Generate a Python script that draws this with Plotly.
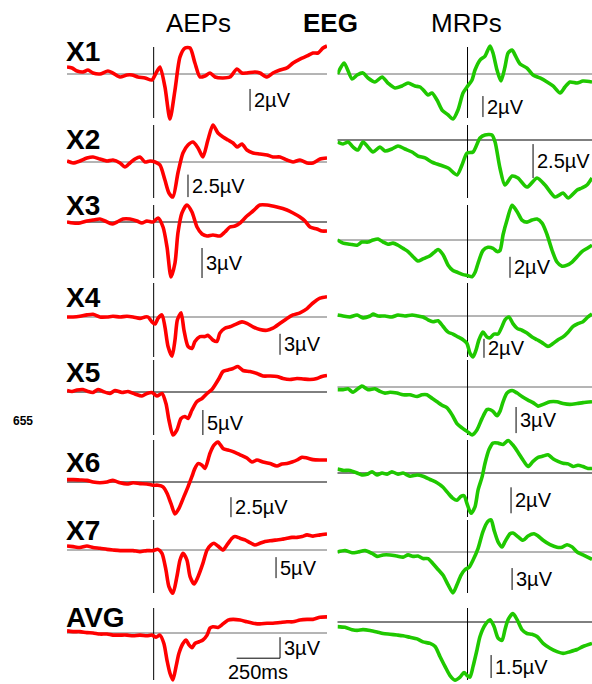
import plotly.graph_objects as go

W, H = 592, 684

# ---------------- waveform data: time (ms) and amplitude (µV) ----------------
rows = ["X1", "X2", "X3", "X4", "X5", "X6", "X7", "AVG"]

x1_aep_t = [-500, -471, -442, -408, -379, -350, -310, -264, -235, -194, -154, -125, -91, -50, -10, 8, 36, 65, 94, 123,
            152, 181, 210, 238, 267, 296, 325, 354, 400, 440, 481, 509, 538, 584, 613, 654, 688, 729, 769, 804,
            844, 885, 919, 948, 977, 1000]
x1_aep_uv = [0.64, 0.55, 0.27, 0.18, 0.36, 0.09, 0, 0.27, 0.09, -0.27, -0.09, -0.09, -0.27, -0.36, -0.55, -0.09, 0.64, -1.18, -4.09, -1.45,
             1.55, 2.36, 2.36, 1.0, -0.27, -0.18, 0.09, -0.27, -0.36, -0.27, 0.45, 0.09, 0.09, 0.18, 0.09, -0.27, 0.09, 0.36, 0.55, 1.0,
             1.36, 1.64, 1.91, 1.91, 2.36, 2.55]

x1_mrp_t = [-750, -712, -666, -637, -603, -574, -534, -493, -459, -418, -378, -343, -303, -274, -245, -228, -205, -176, -147, -112,
            -84, -55, -26, -3, 26, 43, 72, 101, 130, 147, 170, 193, 216, 234, 257, 274, 303, 343, 378, 418,
            459, 493, 534, 562, 591, 632, 666, 718]
x1_mrp_uv = [0, 1.05, -0.48, -0.1, 0.1, -0.38, -0.76, -0.29, -0.86, -1.33, -1.14, -0.86, -1.14, -1.24, -1.71, -2.0, -1.81, -2.48, -3.43, -3.9,
             -4.29, -3.43, -1.81, -1.24, -0.57, 0.38, 1.33, 1.71, 2.67, 2.0, 0.38, -0.67, 0.67, 2.0, 2.29, 1.81, 0.95, 0.57, -0.1, -0.38,
             -0.76, -1.14, -1.81, -1.24, -0.76, -0.86, -0.67, -0.76]

x2_aep_t = [-500, -465, -425, -385, -350, -310, -269, -235, -194, -166, -137, -108, -79, -50, -21, 8, 36, 65, 88, 111,
            140, 169, 198, 227, 256, 284, 313, 342, 371, 400, 429, 458, 481, 509, 538, 573, 613, 654, 688, 729,
            769, 804, 844, 885, 919, 960, 1000]
x2_aep_uv = [0.11, -0.11, 0.11, 0.44, 0.56, 0.33, 0.11, 0.22, -0.11, -0.56, -0.11, 0.33, 0.56, 0, 0.11, 0, -0.33, -2.0, -3.44, -3.89,
             -1.22, 1.0, 1.89, 2.22, 1.56, 0.56, 2.44, 4.11, 3.22, 2.78, 2.44, 2.11, 1.67, 2.0, 1.33, 1.0, 0.89, 0.78, 0.56, 0.56,
             0.22, 0, 0.22, -0.11, -0.11, 0.33, 0.44]

x2_mrp_t = [-750, -718, -689, -661, -632, -603, -574, -545, -505, -476, -436, -401, -361, -320, -286, -245, -205, -159, -112, -61,
            -32, -3, 32, 72, 101, 141, 159, 187, 216, 257, 291, 343, 401, 447, 505, 551, 580, 632, 660, 689, 718]
x2_mrp_uv = [-0.15, -0.29, -0.15, -0.51, -0.74, -0.15, -0.51, -0.88, -0.51, -0.81, -0.66, -0.44, -0.66, -0.88, -1.18, -1.32, -1.62, -1.84, -2.06, -2.57,
             -1.84, -0.96, -0.88, 0.15, 0.37, 0.37, -0.15, -2.06, -3.31, -2.65, -2.79, -3.46, -2.79, -3.31, -4.19, -3.9, -4.26, -3.68, -3.53, -3.31, -2.79]

x3_aep_t = [-500, -465, -425, -385, -350, -310, -281, -240, -212, -177, -137, -96, -68, -39, -4, 25, 54, 77, 100, 123,
            140, 163, 192, 221, 250, 279, 308, 342, 383, 411, 440, 469, 498, 538, 573, 613, 654, 711, 769, 804,
            844, 873, 902, 942, 971, 1000]
x3_aep_uv = [0, -0.1, -0.1, 0.1, 0.2, 0.3, 0.1, -0.2, 0, 0.3, 0.3, 0.1, -0.1, 0.1, 0, 0.4, -0.5, -2.5, -5.5, -4.1,
             -1.1, 0.9, 1.7, 1.0, -0.5, -1.2, -1.4, -1.3, -1.4, -1.0, -0.5, -0.4, -0.1, 0.6, 1.1, 1.7, 1.7, 1.5, 1.2, 0.9,
             0.5, 0.1, -0.5, -0.7, -0.9, -0.9]

x3_mrp_t = [-750, -718, -678, -637, -609, -574, -545, -516, -487, -459, -430, -401, -372, -343, -314, -286, -257, -216, -187, -170,
            -141, -112, -84, -55, -26, 3, 26, 43, 61, 89, 118, 147, 170, 187, 205, 228, 257, 286, 314, 343,
            372, 401, 430, 459, 488, 516, 545, 574, 603, 632, 660, 689, 718]
x3_mrp_uv = [0, -0.3, -0.4, -0.5, -0.2, -0.2, 0, 0.1, -0.2, -0.4, -0.3, -0.5, -0.8, -1.1, -1.6, -2.0, -1.8, -1.5, -1.1, -0.9,
             -1.4, -2.4, -2.9, -3.1, -3.3, -3.4, -3.5, -3.1, -2.2, -1.0, -0.7, -0.8, -1.1, -1.0, 0.5, 1.9, 3.3, 2.7, 1.9, 1.7,
             1.9, 2.0, 1.6, 0.5, -1.0, -2.1, -2.5, -2.4, -2.1, -1.6, -1.1, -0.8, -0.5]

x4_aep_t = [-500, -465, -425, -385, -350, -310, -269, -235, -194, -154, -119, -79, -50, -33, -10, 8, 25, 48, 65, 83,
            106, 123, 137, 158, 175, 198, 221, 238, 267, 296, 313, 342, 365, 382, 411, 440, 469, 509, 538, 573,
            613, 654, 688, 729, 769, 804, 844, 885, 919, 960, 1000]
x4_aep_uv = [0, 0, 0.1, 0.3, 0.4, 0, 0, 0.1, 0, 0.1, 0, -0.2, 0, 0, -0.7, -1.0, -0.2, 0.3, -1.4, -4.2,
             -5.6, -3.3, -0.4, 0.6, -1.9, -4.2, -4.5, -3.5, -2.8, -2.8, -2.6, -3.3, -3.5, -2.3, -1.6, -1.4, -1.1, -0.7, -0.9, -1.4,
             -1.8, -1.9, -1.6, -0.9, -0.2, 0.3, 0.6, 1.2, 2.0, 2.7, 2.9]

x4_mrp_t = [-750, -718, -678, -637, -603, -562, -545, -516, -476, -436, -401, -361, -320, -286, -257, -228, -199, -170, -141, -112,
            -84, -55, -26, -3, 14, 32, 49, 66, 89, 112, 130, 153, 176, 199, 216, 239, 262, 286, 314, 343,
            372, 401, 430, 464, 493, 522, 551, 580, 609, 637, 666, 695, 718]
x4_mrp_uv = [0.1, 0, -0.1, 0.1, -0.2, 0, 0.2, 0, 0, -0.1, 0.1, 0, 0.1, 0, -0.1, -0.4, -0.6, -0.5, -1.1, -1.7,
             -1.9, -2.2, -2.5, -2.9, -3.9, -4.3, -3.6, -2.5, -1.7, -2.2, -2.3, -1.9, -1.9, -1.1, -0.4, -0.1, -0.8, -1.3, -1.5, -1.8,
             -2.2, -2.5, -2.8, -3.2, -2.9, -2.5, -2.2, -1.7, -1.1, -0.8, -0.6, -0.1, 0.2]

x5_aep_t = [-500, -471, -442, -408, -379, -350, -321, -292, -252, -223, -183, -148, -108, -68, -39, -10, 19, 48, 71, 88,
            111, 134, 158, 181, 198, 221, 250, 279, 308, 336, 354, 377, 400, 429, 458, 486, 515, 556, 596, 631,
            671, 711, 746, 786, 827, 862, 902, 942, 971, 1000]
x5_aep_uv = [0.3, 0.1, 0.4, 0.5, 0.1, -0.1, 0.5, 0.1, -0.3, 0.3, -0.1, 0.1, -0.4, -0.8, -0.3, -0.1, -0.8, -0.3, -2.3, -5.6,
             -8.6, -7.6, -5.3, -4.9, -5.3, -3.6, -1.9, -1.3, -0.3, 0.5, 1.4, 2.7, 4.1, 4.4, 4.7, 5.1, 4.3, 4.1, 3.7, 3.2,
             3.2, 3.1, 2.7, 2.5, 2.7, 2.6, 2.5, 2.7, 3.1, 3.3]

x5_mrp_t = [-750, -718, -689, -661, -609, -574, -534, -505, -476, -447, -407, -372, -332, -291, -263, -234, -205, -176, -147, -118,
            -89, -61, -32, -3, 26, 55, 84, 112, 130, 147, 170, 187, 205, 228, 257, 286, 314, 349, 378, 407,
            436, 476, 516, 551, 591, 632, 666, 718]
x5_mrp_uv = [-0.3, -0.3, -0.2, -0.6, 0.1, -0.3, -0.2, -0.5, -0.7, -0.6, -0.7, -0.9, -0.9, -1.1, -0.9, -0.9, -1.3, -1.7, -2.1, -2.4,
             -3.2, -4.2, -4.7, -5.1, -5.5, -4.9, -3.6, -2.6, -2.6, -2.8, -3.3, -2.8, -1.7, -0.7, -0.4, -0.7, -1.1, -1.5, -1.8, -2.2,
             -2.0, -1.7, -1.7, -1.9, -2.0, -1.9, -1.8, -1.7]

x6_aep_t = [-500, -465, -425, -385, -350, -310, -269, -235, -194, -154, -119, -79, -39, -4, 25, 54, 77, 100, 123, 146,
            175, 198, 221, 238, 256, 279, 296, 325, 348, 371, 400, 429, 458, 498, 538, 567, 596, 631, 671, 711,
            740, 769, 798, 827, 856, 885, 919, 960, 1000]
x6_aep_uv = [0.3, 0.3, 0.25, 0.2, 0, -0.1, 0, 0.2, -0.1, -0.25, -0.1, -0.2, -0.25, -0.4, -0.4, -0.6, -1.4, -2.7, -4.0, -3.3,
             -1.8, -0.6, 0.7, 1.7, 2.3, 2.1, 1.7, 3.6, 4.6, 5.0, 4.2, 4.0, 3.8, 3.4, 3.0, 2.5, 2.75, 2.5, 2.3, 2.0,
             2.25, 2.3, 2.5, 2.75, 3.1, 3.0, 2.8, 2.75, 2.75]

x6_mrp_t = [-750, -718, -678, -637, -609, -580, -551, -522, -493, -464, -436, -401, -372, -332, -291, -257, -216, -176, -141, -112,
            -84, -61, -38, -20, -3, 20, 43, 61, 84, 101, 124, 147, 176, 205, 234, 262, 291, 320, 349, 378,
            407, 436, 464, 493, 522, 551, 580, 609, 637, 666, 695, 718]
x6_mrp_uv = [0.3, 0.2, 0.2, 0, -0.15, -0.1, 0.1, -0.15, 0, -0.1, 0.1, -0.1, 0, -0.25, -0.15, -0.25, -0.5, -0.75, -1.1, -1.55,
             -1.95, -2.1, -1.8, -1.75, -2.35, -3.1, -2.6, -1.3, -0.3, 0.75, 1.8, 2.3, 2.3, 2.2, 2.5, 2.15, 1.6, 1.0, 0.5, 0.9,
             1.2, 1.3, 1.4, 1.1, 0.9, 0.75, 0.7, 0.5, 0.6, 0.5, 0.35, 0.35]

x7_aep_t = [-500, -465, -425, -385, -350, -310, -269, -235, -194, -154, -119, -79, -39, -4, 25, 48, 71, 88, 111, 134,
            152, 169, 192, 210, 233, 256, 284, 308, 331, 348, 371, 400, 423, 452, 469, 498, 527, 556, 584, 613,
            642, 671, 711, 740, 769, 798, 827, 856, 885, 919, 960, 1000]
x7_aep_uv = [0.95, 0.8, 0.6, 0.95, 0.6, 0.4, 0.15, 0, -0.15, -0.15, -0.15, -0.4, -0.15, -0.15, 0.15, -0.8, -4.8, -8.7, -10.3, -6.35,
             -2.4, -0.8, -2.4, -6.35, -8.1, -6.35, -3.2, 0, 1.2, 1.6, 0.95, 0, 1.2, 2.8, 3.2, 2.8, 2.4, 1.75, 1.2, 1.6,
             2.0, 2.2, 2.4, 2.55, 2.8, 3.0, 3.0, 3.2, 3.6, 3.3, 3.6, 3.8]

x7_mrp_t = [-750, -707, -666, -632, -591, -551, -522, -487, -447, -407, -372, -343, -314, -286, -257, -228, -199, -170, -141, -112,
            -84, -61, -38, -14, 9, 32, 61, 89, 118, 136, 153, 176, 199, 216, 245, 262, 291, 320, 349, 384,
            407, 436, 476, 516, 545, 574, 603, 632, 666, 718]
x7_mrp_uv = [0, 0.2, -0.1, 0, 0.2, -0.2, -0.6, -0.4, -0.4, -0.55, -0.7, -0.4, -0.6, -0.55, -0.9, -0.9, -1.6, -2.4, -3.2, -4.5,
             -5.6, -4.5, -3.2, -2.4, -2.1, -1.1, 0.5, 2.8, 4.2, 4.4, 3.0, 1.4, 0.7, 1.4, 2.5, 2.6, 2.1, 1.6, 2.2, 2.5,
             2.2, 1.6, 1.0, 0.65, 0.65, 1.0, 0.7, 0, -0.4, -1.0]

avg_aep_t = [-500, -465, -425, -385, -350, -310, -269, -235, -194, -154, -119, -79, -39, -10, 14, 36, 59, 77, 94, 111,
             129, 146, 169, 187, 204, 221, 238, 262, 284, 308, 325, 342, 371, 400, 429, 458, 498, 538, 573, 613,
             654, 688, 729, 769, 804, 844, 885, 919, 960, 1000]
avg_aep_uv = [0.3, 0.2, 0.2, 0.05, 0, -0.15, -0.15, -0.3, -0.3, -0.3, -0.4, -0.3, -0.4, -0.3, -0.6, -0.3, -1.5, -3.9, -5.75, -6.7,
              -4.8, -2.9, -1.5, -1.0, -1.7, -2.1, -1.5, -1.25, -1.0, -0.3, 0.7, 0.9, 0.8, 1.3, 1.85, 1.95, 1.85, 1.6, 1.4, 1.3,
              1.4, 1.4, 1.5, 1.6, 1.6, 1.85, 1.95, 1.95, 2.25, 2.3]

avg_mrp_t = [-750, -707, -666, -637, -603, -562, -522, -487, -447, -407, -372, -332, -291, -257, -216, -187, -159, -130, -101, -72,
             -43, -20, -3, 14, 32, 55, 72, 101, 130, 153, 176, 199, 216, 234, 262, 286, 314, 343, 372, 401,
             436, 476, 516, 551, 591, 632, 666, 718]
avg_mrp_uv = [-0.3, -0.35, -0.5, -0.55, -0.5, -0.55, -0.65, -0.75, -0.8, -0.85, -0.9, -1.0, -1.1, -1.3, -1.4, -1.6, -2.25, -2.9, -3.5, -3.8,
              -3.6, -3.3, -3.5, -3.6, -2.9, -1.8, -0.95, -0.2, 0.15, -0.3, -1.05, -1.2, -0.5, 0.15, 0.55, 0.15, -0.5, -0.75, -0.8, -0.95,
              -1.4, -1.72, -1.94, -2.05, -1.94, -1.8, -1.6, -1.4]

aep_series = [(x1_aep_t, x1_aep_uv), (x2_aep_t, x2_aep_uv), (x3_aep_t, x3_aep_uv), (x4_aep_t, x4_aep_uv),
              (x5_aep_t, x5_aep_uv), (x6_aep_t, x6_aep_uv), (x7_aep_t, x7_aep_uv), (avg_aep_t, avg_aep_uv)]
mrp_series = [(x1_mrp_t, x1_mrp_uv), (x2_mrp_t, x2_mrp_uv), (x3_mrp_t, x3_mrp_uv), (x4_mrp_t, x4_mrp_uv),
              (x5_mrp_t, x5_mrp_uv), (x6_mrp_t, x6_mrp_uv), (x7_mrp_t, x7_mrp_uv), (avg_mrp_t, avg_mrp_uv)]

# calibration bars (µV) and time bar (ms)
aep_scale_uv = [2, 2.5, 3, 3, 5, 2.5, 5, 3]
mrp_scale_uv = [2, 2.5, 2, 2, 3, 2, 3, 1.5]
time_scale_ms = 250

# ---------------- layout settings ----------------
aep_range_ms = [-500, 1000]
mrp_range_ms = [-750, 718]
aep_domain = [67 / W, 327 / W]
mrp_domain = [337.5 / W, 1.0]

# baseline row (px from top) and vertical gain (px per µV) of every trace
aep_base_px = [74, 162, 222, 317, 392, 482, 550, 633]
mrp_base_px = [74, 140, 240, 316, 387, 473, 552, 622]
aep_gain = [11, 9, 10, 7, 5, 8, 4.2, 7]
mrp_gain = [10.5, 13.6, 10.5, 9.5, 8.7, 13, 7.3, 15.3]

# where the calibration bars sit: (time ms, bottom µV)
aep_bar_at = [(556, -3.36), (198, -3.9), (279, -5.6), (729, -5.4), (284, -8.6), (446, -4.4), (706, -6.7), (729, -3.6)]
mrp_bar_at = [(89, -4.1), (378, -2.8), (245, -3.6), (95, -4.4), (280, -5.3), (251, -3.1), (257, -5.2), (136, -3.66)]

onset_span_px = [(47, 118), (125, 198), (205, 278), (283, 357), (360, 435), (440, 517), (520, 593), (608, 680)]
label_y_px = [52, 139, 205, 298, 372, 462, 530, 617]

GRAY = "#6a6a6a"
BLACK = "#000000"
aep_zero_color = [GRAY, GRAY, BLACK, GRAY, BLACK, BLACK, GRAY, GRAY]
mrp_zero_color = [GRAY, BLACK, GRAY, GRAY, GRAY, BLACK, GRAY, BLACK]

RED = "#ff0000"
GREEN = "#1fc800"
FONT = "Arial, Liberation Sans, sans-serif"


def py(px):
    """pixel row from the top -> paper coordinate"""
    return 1 - px / H


fig = go.Figure()
shapes, annotations, axes = [], [], {}

k = 0
for i, name in enumerate(rows):
    for side in ("aep", "mrp"):
        k += 1
        xa = "x" if k == 1 else f"x{k}"
        ya = "y" if k == 1 else f"y{k}"
        xkey = "xaxis" if k == 1 else f"xaxis{k}"
        ykey = "yaxis" if k == 1 else f"yaxis{k}"
        if side == "aep":
            t, uv = aep_series[i]
            base, gain = aep_base_px[i], aep_gain[i]
            dom, rng, color = aep_domain, aep_range_ms, RED
            bar_t, bar_v = aep_bar_at[i]
            bar_uv = aep_scale_uv[i]
            zcol = aep_zero_color[i]
        else:
            t, uv = mrp_series[i]
            base, gain = mrp_base_px[i], mrp_gain[i]
            dom, rng, color = mrp_domain, mrp_range_ms, GREEN
            bar_t, bar_v = mrp_bar_at[i]
            bar_uv = mrp_scale_uv[i]
            zcol = mrp_zero_color[i]

        axes[xkey] = dict(domain=dom, range=rng, visible=False, anchor=ya, fixedrange=True)
        axes[ykey] = dict(domain=[0, 1], range=[-(H - base) / gain, base / gain],
                          visible=False, anchor=xa, fixedrange=True)

        # zero line of the trace
        shapes.append(dict(type="line", xref=f"{xa} domain", x0=0, x1=1, yref=ya, y0=0, y1=0,
                           line=dict(color=zcol, width=1), layer="below"))
        # stimulus / movement onset marker
        top, bot = onset_span_px[i]
        shapes.append(dict(type="line", xref=xa, x0=0, x1=0, yref="paper", y0=py(bot), y1=py(top),
                           line=dict(color=BLACK, width=1), layer="below"))

        fig.add_trace(go.Scatter(
            x=t, y=uv, xaxis=xa, yaxis=ya, mode="lines",
            line=dict(color=color, width=3.6, shape="spline", smoothing=0.7),
            hoverinfo="skip", showlegend=False))

        # amplitude calibration bar
        shapes.append(dict(type="line", xref=xa, x0=bar_t, x1=bar_t, yref=ya,
                           y0=bar_v, y1=bar_v + bar_uv, line=dict(color=BLACK, width=1)))
        annotations.append(dict(xref=xa, yref=ya, x=bar_t, y=bar_v + bar_uv / 2,
                                text=f"{bar_uv:g}µV", showarrow=False, xanchor="left",
                                yanchor="middle", xshift=2,
                                font=dict(family=FONT, size=20, color=BLACK)))

        if side == "aep" and name == "AVG":
            # time calibration bar
            shapes.append(dict(type="line", xref=xa, x0=bar_t - time_scale_ms, x1=bar_t, yref=ya,
                               y0=bar_v, y1=bar_v, line=dict(color=BLACK, width=1)))
            annotations.append(dict(xref=xa, yref=ya, x=bar_t - time_scale_ms / 2, y=bar_v,
                                    text=f"{time_scale_ms}ms", showarrow=False, xanchor="center",
                                    yanchor="top", yshift=-1,
                                    font=dict(family=FONT, size=20, color=BLACK)))

    # row label
    annotations.append(dict(xref="paper", yref="paper", x=67 / W, y=py(label_y_px[i]),
                            text=f"<b>{name}</b>", showarrow=False, xanchor="left", yanchor="middle",
                            xshift=-3, font=dict(family=FONT, size=28, color=BLACK)))

# column headings
for txt, cx in (("AEPs", 198), ("<b>EEG</b>", 330), ("MRPs", 466)):
    annotations.append(dict(xref="paper", yref="paper", x=cx / W, y=py(23), text=txt,
                            showarrow=False, xanchor="center", yanchor="middle",
                            font=dict(family=FONT, size=26, color=BLACK)))

# page number
annotations.append(dict(xref="paper", yref="paper", x=23 / W, y=py(421), text="<b>655</b>",
                        showarrow=False, xanchor="center", yanchor="middle",
                        font=dict(family=FONT, size=12, color=BLACK)))

fig.update_layout(
    width=W, height=H, autosize=False,
    margin=dict(l=0, r=0, t=0, b=0),
    paper_bgcolor="white", plot_bgcolor="rgba(0,0,0,0)",
    shapes=shapes, annotations=annotations, showlegend=False,
    **axes,
)

fig.write_html("out.html", config={"displayModeBar": False})
